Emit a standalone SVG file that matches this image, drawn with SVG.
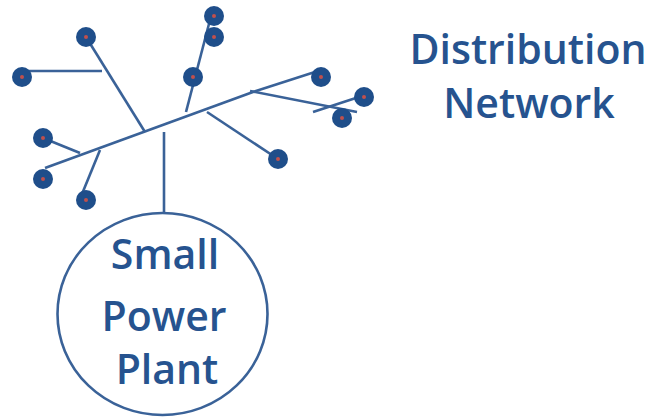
<svg xmlns="http://www.w3.org/2000/svg" width="648" height="419" viewBox="0 0 648 419">
<style>
.ln{stroke:#3a6298;stroke-width:2.6;fill:none;stroke-linecap:butt}
.nd{fill:#1f4e8a}
.dt{fill:#c0504d}
.tx{font-family:"Open Sans","Noto Sans",sans-serif;font-size:41px;font-weight:600;fill:#26538f;text-anchor:middle}
</style>
<rect width="648" height="419" fill="#ffffff"/>
<g id="connectors">
<line class="ln" x1="45" y1="168" x2="253" y2="92"/>
<line class="ln" x1="253" y1="92" x2="318" y2="71"/>
<line class="ln" x1="86" y1="37" x2="145" y2="132"/>
<line class="ln" x1="22" y1="71" x2="102" y2="71"/>
<line class="ln" x1="186" y1="112" x2="210" y2="20"/>
<line class="ln" x1="207" y1="112" x2="278" y2="159"/>
<line class="ln" x1="43" y1="138" x2="80" y2="153"/>
<line class="ln" x1="100" y1="150" x2="82" y2="194"/>
<line class="ln" x1="164" y1="132" x2="164" y2="213"/>
<line class="ln" x1="250" y1="91" x2="357" y2="112"/>
<line class="ln" x1="313" y1="112" x2="362" y2="96"/>
</g>
<g id="node1"><circle class="nd" cx="86" cy="37" r="10"/><circle class="dt" cx="86" cy="37" r="2"/></g>
<g id="node2"><circle class="nd" cx="22" cy="77" r="10"/><circle class="dt" cx="22" cy="77" r="2"/></g>
<g id="node3"><circle class="nd" cx="214" cy="16" r="10"/><circle class="dt" cx="214" cy="16" r="2"/></g>
<g id="node4"><circle class="nd" cx="214" cy="37" r="10"/><circle class="dt" cx="214" cy="37" r="2"/></g>
<g id="node5"><circle class="nd" cx="193" cy="77" r="10"/><circle class="dt" cx="193" cy="77" r="2"/></g>
<g id="node6"><circle class="nd" cx="321" cy="77" r="10"/><circle class="dt" cx="321" cy="77" r="2"/></g>
<g id="node7"><circle class="nd" cx="364" cy="97" r="10"/><circle class="dt" cx="364" cy="97" r="2"/></g>
<g id="node8"><circle class="nd" cx="342" cy="118" r="10"/><circle class="dt" cx="342" cy="118" r="2"/></g>
<g id="node9"><circle class="nd" cx="278" cy="159" r="10"/><circle class="dt" cx="278" cy="159" r="2"/></g>
<g id="node10"><circle class="nd" cx="43" cy="138" r="10"/><circle class="dt" cx="43" cy="138" r="2"/></g>
<g id="node11"><circle class="nd" cx="43" cy="179" r="10"/><circle class="dt" cx="43" cy="179" r="2"/></g>
<g id="node12"><circle class="nd" cx="86" cy="200" r="10"/><circle class="dt" cx="86" cy="200" r="2"/></g>
<g id="plant">
<ellipse cx="162.5" cy="314" rx="105" ry="101" fill="none" stroke="#3a6298" stroke-width="2.6"/>
<text class="tx" x="165" y="269">Small</text>
<text class="tx" x="164" y="331">Power</text>
<text class="tx" x="167" y="384">Plant</text>
</g>
<g id="label">
<text class="tx" x="528" y="64">Distribution</text>
<text class="tx" x="529" y="118">Network</text>
</g>
</svg>
